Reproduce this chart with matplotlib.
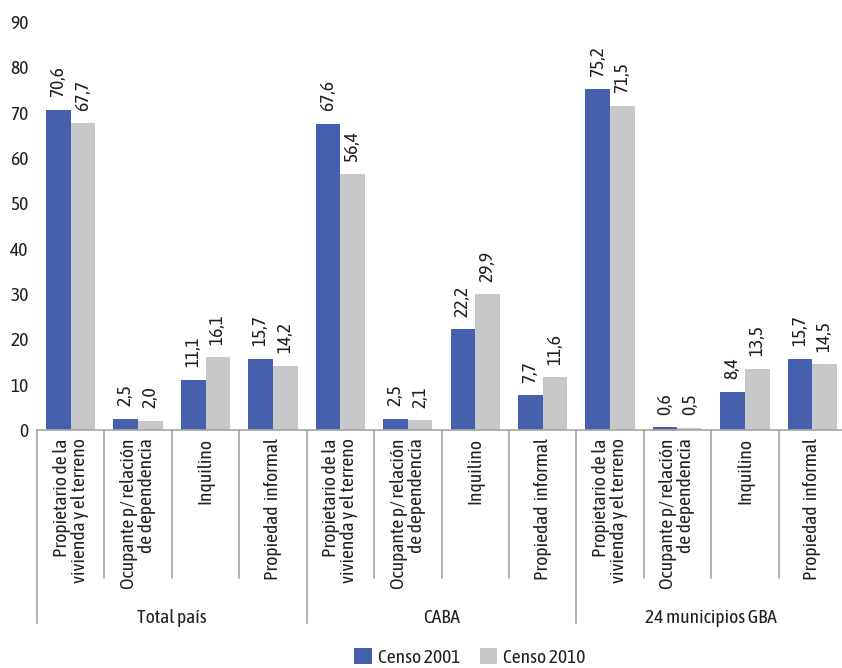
import numpy as np
import matplotlib
matplotlib.use('Agg')
import matplotlib.pyplot as plt
from matplotlib.lines import Line2D

# Data
groups = ['Total país', 'CABA', '24 municipios GBA']
subcats = ['Propietario de la\nvivienda y el terreno',
           'Ocupante p/ relación\nde dependencia',
           'Inquilino',
           'Propiedad  informal']
censo_2001 = [70.6, 2.5, 11.1, 15.7,
              67.6, 2.5, 22.2, 7.7,
              75.2, 0.6, 8.4, 15.7]
censo_2010 = [67.7, 2.0, 16.1, 14.2,
              56.4, 2.1, 29.9, 11.6,
              71.5, 0.5, 13.5, 14.5]
yticks = [0, 10, 20, 30, 40, 50, 60, 70, 80, 90]

BLUE = '#4561AE'
GRAY = '#C7C8CA'
LINE = '#A6A6A6'
TXT = '#231F20'

plt.rcParams['font.family'] = ['Asap Condensed', 'Archivo Narrow', 'Barlow Condensed', 'DejaVu Sans']
plt.rcParams['text.color'] = TXT

fig = plt.figure(figsize=(8.42, 6.68), dpi=100)
ax = fig.add_axes([0.0439, 0.3563, 0.9609, 0.6108])

n = len(censo_2001)
x = np.arange(n)
w = 0.365
b1 = ax.bar(x - w / 2, censo_2001, w, color=BLUE, label='Censo 2001')
b2 = ax.bar(x + w / 2, censo_2010, w, color=GRAY, label='Censo 2010')

def fmt(v):
    return f"{v:.1f}".replace('.', ',')

for bars, vals in [(b1, censo_2001), (b2, censo_2010)]:
    for r, v in zip(bars, vals):
        ax.annotate(fmt(v), (r.get_x() + r.get_width() / 2, v),
                    xytext=(0, 9), textcoords='offset points',
                    rotation=90, ha='center', va='bottom', fontsize=14)

ax.set_xlim(-0.5, n - 0.5)
ax.set_ylim(0, 90)
ax.set_yticks(yticks)
ax.tick_params(axis='y', length=0, pad=6, labelsize=14, labelcolor=TXT)
ax.set_xticks([])
for s in ['top', 'right', 'left']:
    ax.spines[s].set_visible(False)
ax.spines['bottom'].set_color(LINE)
ax.spines['bottom'].set_linewidth(1.2)

# hierarchical x labels
trans = ax.get_xaxis_transform()
for i in range(n + 1):
    xb = i - 0.5
    y_end = -0.473 if i % 4 == 0 else -0.363
    ax.add_line(Line2D([xb, xb], [0, y_end], transform=trans, color=LINE,
                       lw=1.2, clip_on=False))

for i in range(n):
    ax.text(i, -0.02, subcats[i % 4], transform=trans, rotation=90,
            ha='center', va='top', multialignment='right', fontsize=14,
            linespacing=1.0)

for g, name in enumerate(groups):
    ax.text(g * 4 + 1.5, -0.462, name, transform=trans, ha='center',
            va='center', fontsize=14)

fig.legend(handles=[b1, b2], loc='center', bbox_to_anchor=(0.558, 0.016),
           ncol=2, frameon=False, fontsize=14, handlelength=0.9,
           handleheight=0.9, handletextpad=0.3, columnspacing=1.0)

fig.savefig('out.png', dpi=100)
